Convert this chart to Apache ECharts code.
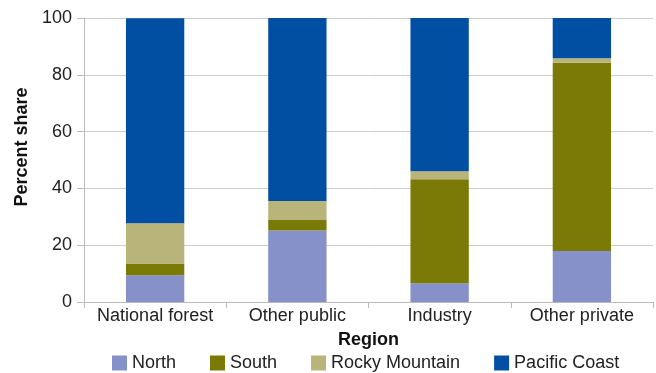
<!DOCTYPE html>
<html>
<head>
<meta charset="utf-8">
<script src="https://cdn.jsdelivr.net/npm/echarts@6/dist/echarts.min.js"></script>
<style>
html,body{margin:0;padding:0;background:#fff;}
#chart{width:656px;height:373px;}
</style>
</head>
<body>
<div id="chart"></div>
<script>
// 数据
var categories = ['National forest', 'Other public', 'Industry', 'Other private'];
var north = [9.4, 25.2, 6.6, 18.0];
var south = [4.2, 3.7, 36.6, 66.2];
var rocky = [14.1, 6.7, 2.8, 1.6];
var pacific = [72.2, 64.4, 54.0, 14.2];

var font = 'Liberation Sans';

function barSeries(name, data, color){
    return {
        name: name,
        type: 'bar',
        stack: 'share',
        barWidth: '41%',
        data: data,
        itemStyle: {color: color}
    };
}

var option = {
    backgroundColor: '#fff',
    animation: false,
    textStyle: {fontFamily: font},
    grid: {left: 84, right: 3, top: 18, bottom: 71},
    legend: {
        top: 354,
        left: 112,
        padding: 0,
        itemWidth: 15,
        itemHeight: 15,
        itemGap: 34,
        icon: 'rect',
        selectedMode: false,
        textStyle: {fontFamily: font, fontSize: 18, color: '#222'},
        data: ['North', 'South', 'Rocky Mountain', 'Pacific Coast']
    },
    xAxis: {
        type: 'category',
        data: categories,
        name: 'Region',
        nameLocation: 'middle',
        nameGap: 29,
        nameTextStyle: {fontFamily: font, fontSize: 18, fontWeight: 'bold', color: '#111'},
        axisLine: {lineStyle: {color: '#bbbbbb'}},
        axisTick: {show: true, length: 6, lineStyle: {color: '#bbbbbb'}},
        axisLabel: {interval: 0, fontFamily: font, fontSize: 18, color: '#222', margin: 5},
        splitLine: {show: false}
    },
    yAxis: {
        type: 'value',
        min: 0,
        max: 100,
        interval: 20,
        name: 'Percent share',
        nameLocation: 'middle',
        nameGap: 47,
        nameTextStyle: {fontFamily: font, fontSize: 18, fontWeight: 'bold', color: '#111', padding: [0, 0, 0, 26]},
        axisLine: {show: true, lineStyle: {color: '#bbbbbb'}},
        axisTick: {show: true, length: 7, lineStyle: {color: '#bbbbbb'}},
        axisLabel: {fontFamily: font, fontSize: 18, color: '#222', margin: 12},
        splitLine: {show: true, lineStyle: {color: '#cccccc', width: 1}}
    },
    series: [
        barSeries('North', north, '#8591c8'),
        barSeries('South', south, '#7b7a06'),
        barSeries('Rocky Mountain', rocky, '#b9b57a'),
        barSeries('Pacific Coast', pacific, '#004fa3')
    ]
};

var myChart = echarts.init(document.getElementById('chart'));
myChart.setOption(option);
</script>
</body>
</html>
